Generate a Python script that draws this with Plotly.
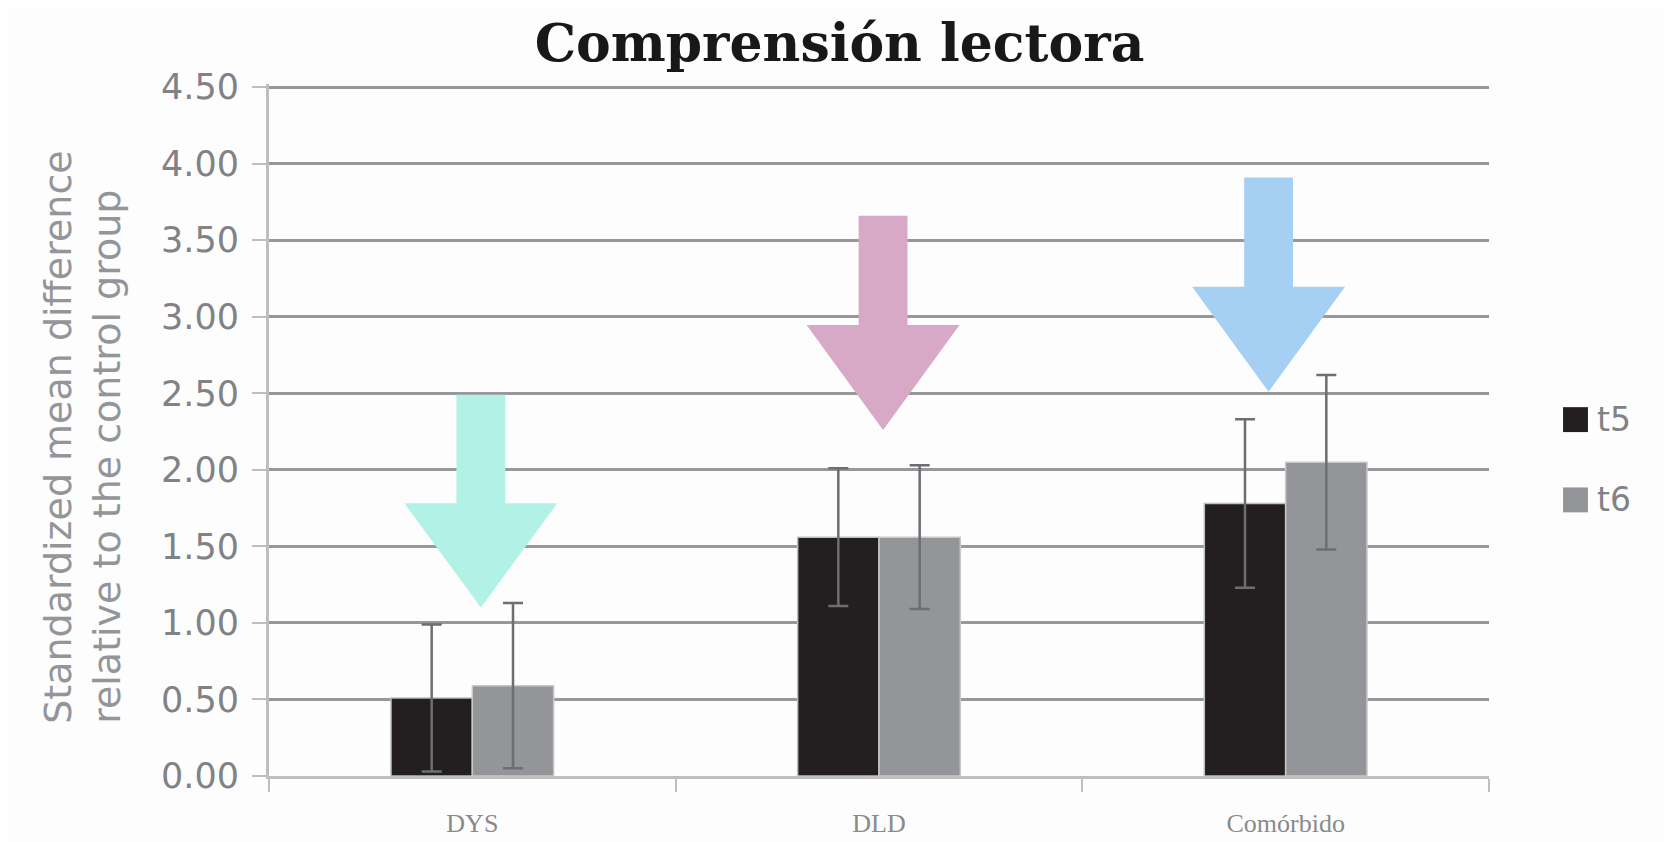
import plotly.graph_objects as go

# Data
categories = ["DYS", "DLD", "Comórbido"]
t5_values = [0.51, 1.56, 1.78]
t5_errors = [0.48, 0.45, 0.55]
t6_values = [0.59, 1.56, 2.05]
t6_errors = [0.54, 0.47, 0.57]

series_names = ["t5", "t6"]
series_colors = ["#231F20", "#939598"]

# Decorative arrows above each group (category index, colour)
arrow_groups = [0, 1, 2]
arrow_colors = ["#B2F2E6", "#D7A9C6", "#A5CFF3"]
arrow_top = [2.49, 3.66, 3.91]
arrow_tip = [1.10, 2.26, 2.51]


def arrow_path(cx, y_top, y_tip):
    # shaft + head, in data units (x = category index)
    shaft_half = 0.06
    head_half = 0.188
    head_len = (y_top - y_tip) * 0.49
    y_neck = y_tip + head_len
    pts = [
        (cx - shaft_half, y_top), (cx + shaft_half, y_top),
        (cx + shaft_half, y_neck), (cx + head_half, y_neck),
        (cx, y_tip), (cx - head_half, y_neck),
        (cx - shaft_half, y_neck),
    ]
    return "M " + " L ".join(f"{x},{y}" for x, y in pts) + " Z"


fig = go.Figure()

fig.add_trace(go.Bar(
    x=categories, y=t5_values, name=series_names[0],
    marker=dict(color=series_colors[0], line=dict(color="#BDBDBD", width=1.5)),
    error_y=dict(type="data", array=t5_errors, color="#6D6E71", thickness=2.5, width=10),
    showlegend=False,
))
fig.add_trace(go.Bar(
    x=categories, y=t6_values, name=series_names[1],
    marker=dict(color=series_colors[1], line=dict(color="#C8C8C8", width=1.5)),
    error_y=dict(type="data", array=t6_errors, color="#6D6E71", thickness=2.5, width=10),
    showlegend=False,
))

offsets = [0.021, 0.010, -0.042]
for g, col, top, tip, off in zip(arrow_groups, arrow_colors, arrow_top, arrow_tip, offsets):
    fig.add_shape(type="path", xref="x", yref="y",
                  path=arrow_path(g + off, top, tip),
                  fillcolor=col, line=dict(width=0), layer="above")

# hand-made legend with big square swatches, as in the original
legend_y = [0.515, 0.399]
for name, col, ly in zip(series_names, series_colors, legend_y):
    fig.add_shape(type="rect", xref="paper", yref="paper",
                  x0=1.0607, x1=1.0811, y0=ly - 0.018, y1=ly + 0.018,
                  fillcolor=col, line=dict(width=0))
    fig.add_annotation(xref="paper", yref="paper", x=1.087, y=ly,
                       xanchor="left", yanchor="middle", showarrow=False,
                       text=name, font=dict(family="DejaVu Sans", size=33, color="#808285"))

# y axis title, two lines aligned at the start like the original
fig.add_annotation(xref="paper", yref="paper", x=-0.1525, y=0.49,
                   xanchor="center", yanchor="middle", showarrow=False,
                   textangle=-90, align="left",
                   text="Standardized mean difference<br>relative to the control group",
                   font=dict(family="DejaVu Sans", size=38, color="#939598"))

fig.update_layout(
    width=1663, height=834,
    margin=dict(l=261, r=182, t=76, b=66, autoexpand=False),
    paper_bgcolor="#FDFDFD", plot_bgcolor="#FDFDFD",
    barmode="group", bargap=0.6, bargroupgap=0,
    title=dict(text="<b>Comprensión lectora</b>", x=0.5, xanchor="center",
               y=0.958, yanchor="middle",
               font=dict(family="DejaVu Serif", size=52, color="#1A1718")),
    font=dict(family="DejaVu Sans"),
)

fig.update_xaxes(
    type="category", showgrid=False, tickson="boundaries",
    ticks="outside", ticklen=13, tickwidth=2, tickcolor="#BEBEBE",
    showline=True, linecolor="#BEBEBE", linewidth=3,
    tickfont=dict(family="Liberation Serif", size=26, color="#8A8A8A"),
    ticklabelstandoff=22, automargin=False,
    range=[-0.5, 2.5],
)
fig.update_yaxes(
    range=[0, 4.52], tickvals=[0, 0.5, 1, 1.5, 2, 2.5, 3, 3.5, 4, 4.5], tickformat=".2f",
    showgrid=True, gridcolor="#97989A", gridwidth=2.5,
    zeroline=False, showline=True, linecolor="#BEBEBE", linewidth=3,
    ticks="outside", ticklen=14, tickwidth=2, tickcolor="#BEBEBE",
    ticklabelstandoff=6, automargin=False,
    tickfont=dict(family="DejaVu Sans", size=35, color="#808285"),
)

fig.write_html("out.html")
